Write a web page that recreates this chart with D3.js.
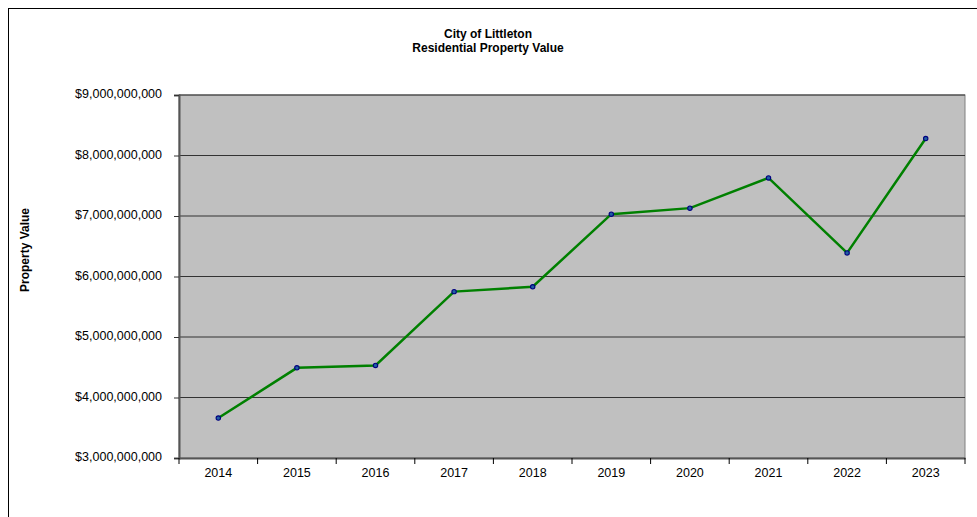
<!DOCTYPE html>
<html><head><meta charset="utf-8">
<script src="https://cdn.jsdelivr.net/npm/d3@7"></script>
<style>body{margin:0;background:#fff}svg{display:block}text{font-family:"Liberation Sans",Arial,sans-serif}</style>
</head><body><svg id="c" width="977" height="517"></svg>
<script>
const years = ["2014","2015","2016","2017","2018","2019","2020","2021","2022","2023"];
const values = [3.66e9, 4.49e9, 4.53e9, 5.75e9, 5.83e9, 7.03e9, 7.13e9, 7.63e9, 6.39e9, 8.28e9];
const yTicks = [3e9,4e9,5e9,6e9,7e9,8e9,9e9];
const titleLines = ["City of Littleton","Residential  Property Value"];
const yTitle = "Property Value";

const svg = d3.select("#c");
const L=179,R=965,T=95,B=458;
svg.append("rect").attr("x",8.5).attr("y",8.5).attr("width",1100).attr("height",600).attr("fill","none").attr("stroke","#000").attr("stroke-width",1);
const x = d3.scaleBand().domain(years).range([L,R]);
const y = d3.scaleLinear().domain([3e9,9e9]).range([B,T]);
svg.append("rect").attr("x",L).attr("y",T).attr("width",R-L).attr("height",B-T).attr("fill","#c0c0c0").attr("stroke","#808080").attr("stroke-width",1);
svg.append("g").selectAll("line").data(yTicks.slice(1)).join("line")
  .attr("x1",L).attr("x2",R).attr("y1",d=>y(d)).attr("y2",d=>y(d)).attr("stroke","#333").attr("stroke-width",1);
const fmt = d=>"$"+d3.format(",")(d);
const ya = svg.append("g").attr("transform",`translate(${L},0)`).call(d3.axisLeft(y).tickValues(yTicks).tickFormat(fmt).tickSize(5).tickPadding(12));
ya.select(".domain").attr("stroke","#555").attr("stroke-width",2);
ya.selectAll(".tick line").attr("stroke","#333");
ya.selectAll("text").attr("font-size",12.5).attr("fill","#000").attr("font-family","Liberation Sans, Arial, sans-serif").attr("dy","0.2em");
const xa = svg.append("g").attr("transform",`translate(0,${B})`).call(d3.axisBottom(x).tickSize(0).tickPadding(10));
xa.select(".domain").attr("stroke","#555").attr("stroke-width",2);
xa.selectAll("text").attr("font-size",12.5).attr("fill","#000").attr("font-family","Liberation Sans, Arial, sans-serif");
svg.append("g").selectAll("line").data(years.concat(["end"])).join("line")
  .attr("x1",(d,i)=>L+i*x.bandwidth()).attr("x2",(d,i)=>L+i*x.bandwidth()).attr("y1",B).attr("y2",B+6).attr("stroke","#000");
const line = d3.line().x((d,i)=>x(years[i])+x.bandwidth()/2).y(d=>y(d));
svg.append("path").datum(values).attr("d",line).attr("fill","none").attr("stroke","#008000").attr("stroke-width",2.5);
svg.append("g").selectAll("circle").data(values).join("circle")
  .attr("cx",(d,i)=>x(years[i])+x.bandwidth()/2).attr("cy",d=>y(d)).attr("r",2.2)
  .attr("fill","#2060a0").attr("stroke","#000080").attr("stroke-width",1.1);
svg.append("g").selectAll("text").data(titleLines).join("text")
  .attr("x",488).attr("y",(d,i)=>38+i*14).attr("text-anchor","middle").attr("font-weight","bold").attr("font-size",12).text(d=>d);
svg.append("text").attr("transform","translate(29,250) rotate(-90)").attr("text-anchor","middle").attr("font-weight","bold").attr("font-size",12).text(yTitle);
</script></body></html>
